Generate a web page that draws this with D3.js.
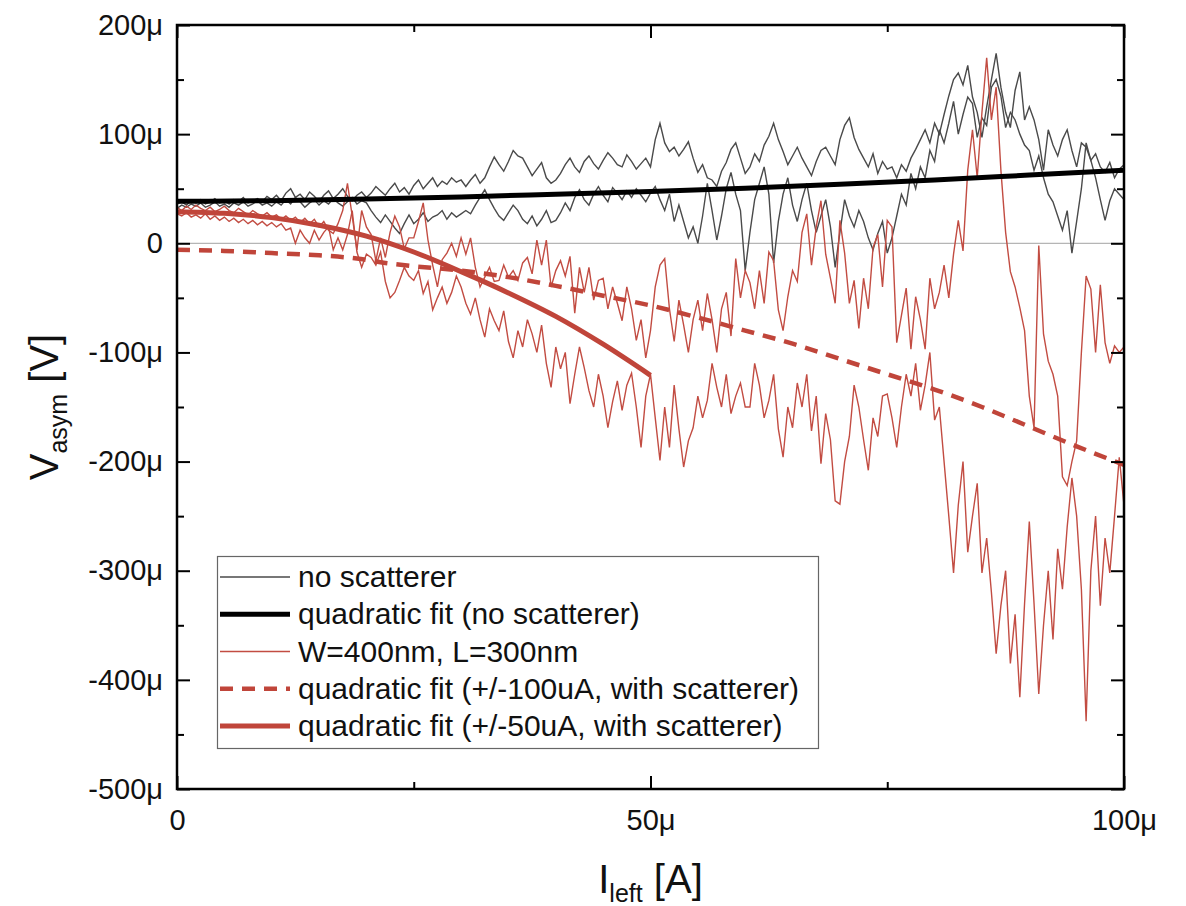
<!DOCTYPE html>
<html>
<head>
<meta charset="utf-8">
<script src="https://cdn.jsdelivr.net/npm/d3@7"></script>
<style>
body { margin: 0; background: #fff; }
text { font-family: "Liberation Sans", Arial, sans-serif; fill: #111; }
</style>
</head>
<body>
<svg id="chart" width="1186" height="906"></svg>
<script>
// sweep data, one sample every 0.5 uA from 0 to 100 uA, values in uV
const step = 0.5;

const grayA = [36,38,35,39,37,40,36,38,41,37,39,36,40,38,42,37,39,41,38,43,40,
  44,39,46,50,42,45,40,47,43,38,44,48,41,45,50,43,39,44,47,42,
  46,52,48,44,50,55,47,51,45,53,58,50,55,60,52,57,54,60,56,58,
  52,58,63,55,60,70,79,72,66,75,85,80,78,70,62,68,74,60,55,58,
  64,72,78,70,65,75,80,73,68,76,83,78,72,70,81,75,68,73,78,70,
  95,110,92,84,88,80,86,93,78,65,72,60,58,52,66,74,86,92,78,64,
  70,82,75,90,98,110,95,84,72,80,88,78,70,62,75,85,88,80,72,95,
  108,115,97,86,78,70,82,64,75,68,70,60,72,66,78,86,95,104,92,110,
  100,118,135,150,156,145,163,134,120,97,125,150,174,143,120,106,140,157,113,125,
  113,95,67,104,90,80,95,104,85,70,92,88,76,82,70,65,74,60,68,72];

const grayB = [32,35,33,36,34,37,33,35,38,34,36,33,37,35,38,34,36,39,35,37,34,
  38,35,40,36,42,38,33,37,40,35,39,36,41,37,34,38,42,36,39,37,
  30,24,19,26,20,14,9,18,26,18,22,28,20,24,26,30,22,28,24,27,
  30,27,35,42,49,40,32,25,21,28,35,30,22,18,25,16,22,30,19,21,
  28,37,30,42,49,40,35,45,52,44,38,51,46,40,48,42,50,44,38,46,
  52,40,30,45,20,35,20,5,15,0,25,55,30,3,25,50,65,45,30,-25,
  10,40,55,70,45,-18,20,45,60,35,20,40,55,30,10,25,40,15,-22,10,
  40,25,15,30,20,5,-6,9,20,-9,5,25,45,35,64,50,70,60,85,75,
  104,92,110,130,100,118,134,128,97,115,108,143,150,135,106,120,113,100,90,85,
  67,80,60,45,38,25,12,30,-9,20,50,92,76,60,40,21,39,50,45,40];

const redA = [33,30,34,31,35,32,30,33,29,31,34,30,28,32,29,26,30,27,25,28,24,
  26,22,25,21,24,19,23,18,22,15,20,12,9,18,30,55,25,-6,30,15,
  8,-16,5,-13,10,25,15,-5,5,5,20,37,3,-20,-40,-15,-9,0,-12,5,
  -10,5,-22,-40,-31,-22,-35,-34,-20,-31,-25,-34,-18,-13,-28,3,-20,3,-40,-25,
  -16,-30,-12,-64,-22,-45,-22,-52,-34,-32,-60,-40,-55,-71,-40,-60,-89,-70,-105,-80,
  -40,-20,-14,-60,-90,-52,-75,-100,-70,-52,-80,-46,-70,-100,-60,-45,-85,-14,-50,-25,
  -36,-60,-25,-55,-8,-16,-61,-80,-49,-25,-35,10,27,-20,15,39,-10,-32,-55,21,
  -9,-55,-34,-78,-32,-60,-4,8,-40,21,15,-91,-66,-41,-97,-49,-70,-97,-32,-60,
  -45,-20,-50,-10,21,-7,67,104,60,120,170,113,143,67,10,-26,-40,-59,-80,-140,
  -169,-2,-83,-108,-120,-140,-214,-222,-200,-181,-100,-30,-42,-100,-38,-91,-110,-94,-100,-95];

const redB = [27,25,28,24,26,23,27,22,25,21,24,20,23,19,22,18,21,17,20,16,19,
  15,18,12,14,0,12,5,0,12,3,10,15,-6,5,-6,8,30,-8,-22,-10,
  -13,-20,-8,-35,-50,-45,-34,-22,-30,-34,-25,-46,-35,-61,-50,-40,-55,-45,-30,-40,
  -55,-65,-50,-70,-86,-60,-71,-80,-62,-90,-105,-80,-95,-70,-83,-100,-75,-110,-132,-95,
  -115,-100,-147,-120,-95,-114,-135,-150,-120,-140,-169,-145,-126,-153,-130,-119,-150,-187,-140,-120,
  -160,-199,-150,-187,-130,-170,-205,-181,-169,-140,-160,-144,-110,-132,-150,-120,-156,-140,-128,-150,
  -150,-110,-130,-160,-144,-120,-170,-196,-150,-169,-128,-150,-120,-172,-140,-202,-156,-180,-236,-239,
  -200,-177,-130,-150,-180,-208,-160,-177,-140,-138,-160,-187,-150,-120,-140,-110,-153,-130,-100,-162,
  -150,-200,-250,-302,-240,-200,-283,-250,-220,-302,-270,-320,-376,-332,-300,-385,-340,-416,-330,-255,
  -330,-413,-350,-300,-363,-280,-317,-260,-215,-250,-317,-438,-300,-250,-332,-270,-302,-250,-196,-240];

// fitted curves as [I (uA), V (uV)]
const fitNoScat = [[0,38.5],[10,39],[20,40.5],[30,42.5],[40,45],[50,47.5],[60,50.5],[70,54],[80,58],[90,62.5],[100,67]];
const fit100 = [[0,-6],[5,-7],[10,-9],[15,-11],[19,-14],[22,-18],[25,-21],[30,-25],[35,-31],[40,-39],[45,-48],[50,-57],
  [55,-68],[60,-80],[65,-92],[70,-106],[75,-120],[80,-134],[85,-150],[90,-168],[95,-186],[100,-203]];
const fit50 = [[0,29],[5,27.5],[10,23.5],[15,16.5],[20,6.5],[25,-8],[30,-26],[35,-45.5],[40,-67],[45,-92.5],[50,-121]];

const xMajor = [0, 50, 100];
const xMinor = [25, 75];
const yMajor = [-500, -400, -300, -200, -100, 0, 100, 200];
const yMinor = [-450, -350, -250, -150, -50, 50, 150];

const legendLabels = ["no scatterer", "quadratic fit (no scatterer)", "W=400nm, L=300nm",
  "quadratic fit (+/-100uA, with scatterer)", "quadratic fit (+/-50uA, with scatterer)"];

const grayColor = "#4a4a4a";
const redThin = "#c24c42";
const redFit = "#c0453a";

const svg = d3.select("#chart");
svg.append("rect").attr("width", 1186).attr("height", 906).attr("fill", "#fff");

const pLeft = 177, pRight = 1124, pTop = 25, pBottom = 789;
const x = d3.scaleLinear().domain([0, 100]).range([pLeft, pRight]);
const y = d3.scaleLinear().domain([-500, 200]).range([pBottom, pTop]);

const fmt = v => v === 0 ? "0" : v + "μ";

svg.append("defs").append("clipPath").attr("id", "plot")
  .append("rect").attr("x", pLeft).attr("y", pTop).attr("width", pRight - pLeft).attr("height", pBottom - pTop);

const plot = svg.append("g").attr("clip-path", "url(#plot)");

// zero line
plot.append("line")
  .attr("x1", pLeft).attr("x2", pRight)
  .attr("y1", y(0)).attr("y2", y(0))
  .attr("stroke", "#b5b5b5").attr("stroke-width", 1.2);

const sweep = d3.line().x((d, i) => x(i * step)).y(d => y(d));
const smooth = d3.line().x(d => x(d[0])).y(d => y(d[1])).curve(d3.curveMonotoneX);

[grayA, grayB].forEach(s => {
  plot.append("path").datum(s).attr("d", sweep)
    .attr("fill", "none").attr("stroke", grayColor).attr("stroke-width", 1.4);
});
[redA, redB].forEach(s => {
  plot.append("path").datum(s).attr("d", sweep)
    .attr("fill", "none").attr("stroke", redThin).attr("stroke-width", 1.4);
});

plot.append("path").datum(fitNoScat).attr("d", smooth)
  .attr("fill", "none").attr("stroke", "#000").attr("stroke-width", 5);
plot.append("path").datum(fit100).attr("d", smooth)
  .attr("fill", "none").attr("stroke", redFit).attr("stroke-width", 4.5)
  .attr("stroke-dasharray", "13,9");
plot.append("path").datum(fit50).attr("d", smooth)
  .attr("fill", "none").attr("stroke", redFit).attr("stroke-width", 5);

// axes: inward ticks on all four sides
const axisStyle = g => {
  g.select(".domain").remove();
  g.selectAll(".tick line").attr("stroke", "#000").attr("stroke-width", 2);
  g.selectAll(".tick text").attr("font-size", 29).attr("fill", "#111");
};

svg.append("g").attr("transform", `translate(0,${pBottom})`)
  .call(d3.axisBottom(x).tickValues(xMajor).tickSize(-13).tickPadding(20).tickFormat(fmt))
  .call(axisStyle);
svg.append("g").attr("transform", `translate(0,${pBottom})`)
  .call(d3.axisBottom(x).tickValues(xMinor).tickSize(-7).tickFormat(""))
  .call(axisStyle);
svg.append("g").attr("transform", `translate(0,${pTop})`)
  .call(d3.axisTop(x).tickValues(xMajor).tickSize(-13).tickFormat(""))
  .call(axisStyle);
svg.append("g").attr("transform", `translate(0,${pTop})`)
  .call(d3.axisTop(x).tickValues(xMinor).tickSize(-7).tickFormat(""))
  .call(axisStyle);

svg.append("g").attr("transform", `translate(${pLeft},0)`)
  .call(d3.axisLeft(y).tickValues(yMajor).tickSize(-13).tickPadding(14).tickFormat(fmt))
  .call(axisStyle);
svg.append("g").attr("transform", `translate(${pLeft},0)`)
  .call(d3.axisLeft(y).tickValues(yMinor).tickSize(-7).tickFormat(""))
  .call(axisStyle);
svg.append("g").attr("transform", `translate(${pRight},0)`)
  .call(d3.axisRight(y).tickValues(yMajor).tickSize(-13).tickFormat(""))
  .call(axisStyle);
svg.append("g").attr("transform", `translate(${pRight},0)`)
  .call(d3.axisRight(y).tickValues(yMinor).tickSize(-7).tickFormat(""))
  .call(axisStyle);

svg.append("rect")
  .attr("x", pLeft).attr("y", pTop).attr("width", pRight - pLeft).attr("height", pBottom - pTop)
  .attr("fill", "none").attr("stroke", "#000").attr("stroke-width", 2.5);

// axis titles
const xt = svg.append("text").attr("x", (pLeft + pRight) / 2).attr("y", 893)
  .attr("text-anchor", "middle").attr("font-size", 40);
xt.append("tspan").text("I");
xt.append("tspan").attr("font-size", 25).attr("dy", 9).text("left");
xt.append("tspan").attr("dy", -9).text(" [A]");

const yt = svg.append("text").attr("transform", `translate(58,${(pTop + pBottom) / 2}) rotate(-90)`)
  .attr("text-anchor", "middle").attr("font-size", 40);
yt.append("tspan").text("V");
yt.append("tspan").attr("font-size", 25).attr("dy", 9).text("asym");
yt.append("tspan").attr("dy", -9).text(" [V]");

// legend
const lg = svg.append("g");
lg.append("rect").attr("x", 217.5).attr("y", 556.5).attr("width", 601).attr("height", 192)
  .attr("fill", "#fff").attr("stroke", "#666").attr("stroke-width", 1.2);

const legendStyles = [
  { stroke: grayColor, width: 1.3, dash: null },
  { stroke: "#000", width: 5, dash: null },
  { stroke: redThin, width: 1.3, dash: null },
  { stroke: redFit, width: 4.5, dash: "13,9" },
  { stroke: redFit, width: 5, dash: null }
];
const rowY = d3.scaleLinear().domain([0, 4]).range([577, 726]);

legendLabels.forEach((lab, i) => {
  const st = legendStyles[i];
  const yy = rowY(i);
  const ln = lg.append("line").attr("x1", 220).attr("x2", 290).attr("y1", yy).attr("y2", yy)
    .attr("stroke", st.stroke).attr("stroke-width", st.width);
  if (st.dash) ln.attr("stroke-dasharray", st.dash);
  lg.append("text").attr("x", 298).attr("y", yy + 10).attr("font-size", 30).text(lab);
});
</script>
</body>
</html>
